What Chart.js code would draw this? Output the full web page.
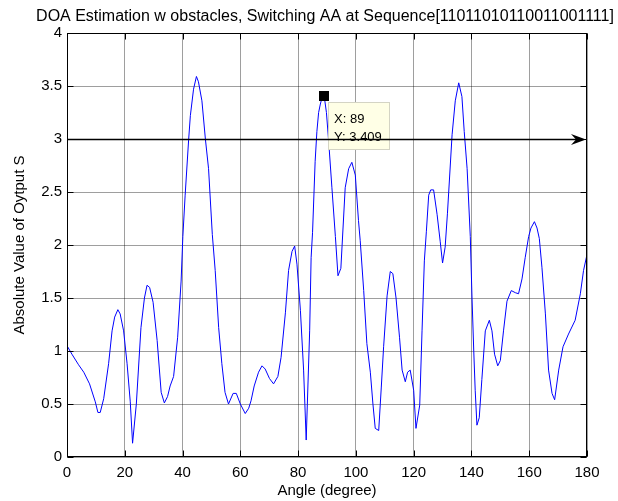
<!DOCTYPE html>
<html>
<head>
<meta charset="utf-8">
<script src="https://cdn.jsdelivr.net/npm/chart.js@4"></script>
<style>
html, body { margin: 0; padding: 0; background: #fff; }
</style>
</head>
<body>
<canvas id="myChart" width="618" height="501"></canvas>
<script>
// values
let angles = [0, 1.7, 4.0, 5.8, 7.8, 9.8, 10.7, 11.5, 12.7, 14.4, 15.6, 16.5, 17.6, 18.4, 19.6, 20.8, 21.9, 22.7, 24.0, 25.6,
  26.8, 27.7, 28.6, 29.8, 31.2, 32.6, 33.7, 34.8, 35.7, 36.9, 38.3, 39.5, 40.1, 40.9, 42.1, 42.7, 43.8, 44.8, 45.5, 46.7,
  47.9, 49.0, 50.3, 51.3, 52.5, 53.6, 54.7, 55.9, 57.5, 58.6, 60.0, 61.7, 62.9, 63.7, 64.8, 66.3, 67.5, 68.6, 70.1, 71.5,
  73.0, 74.1, 75.6, 76.7, 77.9, 78.8, 79.6, 80.8, 81.9, 82.8, 84.0, 84.5, 85.0, 85.9, 86.5, 87.1, 87.7, 88.2, 89.0, 89.8,
  90.6, 91.7, 92.9, 93.8, 94.8, 96.3, 97.5, 98.6, 99.8, 100.9, 101.5, 102.7, 103.8, 105.0, 105.9, 106.7, 107.9, 108.8, 109.6, 110.8,
  111.9, 112.8, 113.9, 115.1, 116.0, 117.1, 117.9, 118.8, 120.0, 120.8, 122.1, 122.9, 123.7, 124.4, 125.2, 125.9, 126.9, 128.1, 129.2, 130.0,
  130.9, 131.7, 133.3, 134.4, 135.6, 136.7, 137.5, 138.5, 139.6, 140.2, 140.8, 141.3, 141.9, 142.7, 143.6, 144.8, 146.2, 147.1, 148.0, 149.1,
  150.0, 151.1, 152.3, 153.8, 155.2, 156.3, 157.5, 158.6, 159.8, 160.6, 161.8, 162.7, 163.5, 164.4, 165.6, 166.7, 167.9, 168.8, 170.2, 171.7,
  173.6, 175.9, 177.7, 178.8, 180];
let values = [1.05, 0.97, 0.87, 0.80, 0.69, 0.52, 0.42, 0.42, 0.55, 0.88, 1.19, 1.32, 1.39, 1.35, 1.19, 0.88, 0.52, 0.13, 0.50, 1.22,
  1.50, 1.62, 1.60, 1.46, 1.10, 0.61, 0.51, 0.57, 0.67, 0.76, 1.13, 1.66, 2.08, 2.47, 2.99, 3.22, 3.47, 3.59, 3.54, 3.36,
  3.00, 2.72, 2.10, 1.76, 1.22, 0.88, 0.61, 0.50, 0.60, 0.60, 0.50, 0.41, 0.46, 0.53, 0.67, 0.80, 0.86, 0.83, 0.74, 0.69,
  0.76, 0.94, 1.36, 1.76, 1.94, 1.99, 1.82, 1.38, 0.82, 0.16, 1.19, 1.88, 2.12, 2.79, 3.07, 3.25, 3.33, 3.38, 3.409, 3.25,
  2.97, 2.54, 2.08, 1.71, 1.78, 2.54, 2.72, 2.78, 2.66, 2.23, 2.04, 1.57, 1.07, 0.80, 0.50, 0.27, 0.25, 0.66, 1.04, 1.52,
  1.75, 1.73, 1.50, 1.13, 0.82, 0.71, 0.80, 0.82, 0.63, 0.27, 0.49, 1.19, 1.85, 2.13, 2.47, 2.52, 2.52, 2.29, 2.03, 1.83,
  1.98, 2.30, 3.04, 3.36, 3.53, 3.40, 3.07, 2.72, 2.08, 1.50, 1.00, 0.63, 0.30, 0.37, 0.73, 1.19, 1.29, 1.19, 0.97, 0.86,
  0.91, 1.19, 1.47, 1.57, 1.55, 1.54, 1.68, 1.88, 2.08, 2.16, 2.22, 2.16, 2.06, 1.79, 1.35, 0.82, 0.60, 0.54, 0.82, 1.04,
  1.16, 1.29, 1.54, 1.76, 1.91];
let xTicks = [0, 20, 40, 60, 80, 100, 120, 140, 160, 180];
let yTicks = [0, 0.5, 1, 1.5, 2, 2.5, 3, 3.5, 4];
let arrowY = 3;
let tipX = 89;
let tipY = 3.409;
let titleText = 'DOA Estimation w obstacles, Switching AA at Sequence[11011010110011001111]';

let font = { family: "'Liberation Sans', Arial, sans-serif", size: 15 };

let matlabPlugin = {
  id: 'matlab',
  afterDatasetsDraw(chart) {
    let { ctx, chartArea: a, scales: { x, y } } = chart;
    let L = Math.round(a.left) + 0.5, R = Math.round(a.right) - 0.5;
    let T = Math.round(a.top) + 0.5, B = Math.round(a.bottom) - 0.5;
    ctx.save();
    ctx.strokeStyle = '#000';
    ctx.fillStyle = '#000';
    ctx.lineWidth = 1;

    // title, centred over the axes like MATLAB does
    ctx.font = "16px 'Liberation Sans', Arial, sans-serif";
    ctx.textAlign = 'center';
    ctx.textBaseline = 'alphabetic';
    ctx.fillText(titleText, (a.left + a.right) / 2 - 2, 21);
    ctx.textAlign = 'left';

    // inward ticks on all four sides
    ctx.beginPath();
    xTicks.forEach(v => {
      let px = Math.round(x.getPixelForValue(v)) + 0.5;
      ctx.moveTo(px, B); ctx.lineTo(px, B - 6);
      ctx.moveTo(px, T); ctx.lineTo(px, T + 6);
    });
    yTicks.forEach(v => {
      let py = Math.round(y.getPixelForValue(v)) + 0.5;
      ctx.moveTo(L, py); ctx.lineTo(L + 6, py);
      ctx.moveTo(R, py); ctx.lineTo(R - 6, py);
    });
    ctx.stroke();
    ctx.strokeRect(L, T, R - L, B - T);

    // data tip
    let mx = x.getPixelForValue(tipX), my = y.getPixelForValue(tipY);
    ctx.fillStyle = '#ffffe6';
    ctx.strokeStyle = '#d4d4c4';
    ctx.fillRect(Math.round(mx + 4), Math.round(my + 6), 62, 48);
    ctx.strokeRect(Math.round(mx + 4) + 0.5, Math.round(my + 6) + 0.5, 61, 47);
    ctx.fillStyle = '#000';
    ctx.fillRect(Math.round(mx - 5), Math.round(my - 5), 10, 10);
    ctx.font = "13px 'Liberation Sans', Arial, sans-serif";
    ctx.fillText('X: ' + tipX, mx + 10, my + 27);
    ctx.fillText('Y: ' + tipY, mx + 10, my + 45);

    // horizontal arrow at y = 3
    let ay = Math.round(y.getPixelForValue(arrowY)) + 0.5;
    let x0 = x.getPixelForValue(0), x1 = x.getPixelForValue(180) - 1;
    ctx.strokeStyle = '#000';
    ctx.lineWidth = 1.3;
    ctx.beginPath();
    ctx.moveTo(x0, ay); ctx.lineTo(x1 - 8, ay);
    ctx.stroke();
    ctx.beginPath();
    ctx.moveTo(x1, ay);
    ctx.lineTo(x1 - 15, ay - 5.5);
    ctx.lineTo(x1 - 10, ay);
    ctx.lineTo(x1 - 15, ay + 5.5);
    ctx.closePath();
    ctx.fill();
    ctx.restore();
  }
};

let ctx = document.getElementById('myChart').getContext('2d');

let myChart = new Chart(ctx, {
  type: 'line',
  data: {
    datasets: [{
      data: angles.map((a, i) => ({ x: a, y: values[i] })),
      borderColor: '#0000ff',
      borderWidth: 1,
      pointRadius: 0,
      tension: 0,
      fill: false
    }]
  },
  options: {
    responsive: false,
    animation: false,
    devicePixelRatio: 1,
    layout: { padding: { left: 0, right: 31, top: 33, bottom: 0 } },
    plugins: {
      legend: { display: false },
      tooltip: { enabled: false },
      title: { display: false }
    },
    scales: {
      x: {
        type: 'linear',
        min: 0,
        max: 180,
        afterBuildTicks: (scale) => { scale.ticks = xTicks.map(v => ({ value: v })); },
        afterFit: (scale) => { scale.height = 44; },
        ticks: { color: '#000', font: font, padding: 7, autoSkip: false, maxRotation: 0, callback: (v) => String(v) },
        grid: { color: 'rgba(0,0,0,0.38)', drawTicks: false },
        border: { display: false },
        title: { display: true, text: 'Angle (degree)', color: '#000', font: font, padding: { top: 0, bottom: 1 } }
      },
      y: {
        min: 0,
        max: 4,
        afterBuildTicks: (scale) => { scale.ticks = yTicks.map(v => ({ value: v })); },
        afterFit: (scale) => { scale.width = 67; },
        ticks: { color: '#000', font: font, padding: 5, callback: (v) => String(v) },
        grid: { color: 'rgba(0,0,0,0.38)', drawTicks: false },
        border: { display: false },
        title: { display: true, text: 'Absolute Value of Oytput S', color: '#000', font: font, padding: { top: 11, bottom: 0 } }
      }
    }
  },
  plugins: [matlabPlugin]
});
</script>
</body>
</html>
